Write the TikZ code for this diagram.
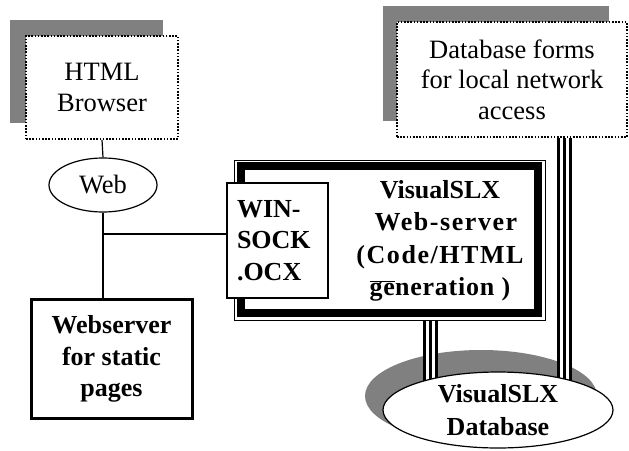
\documentclass[tikz,border=0pt]{standalone}
\usepackage{fontspec}
\setmainfont{Liberation Serif}
\usetikzlibrary{calc,shapes.geometric}
\tikzset{
  txt/.style={font=\fontsize{26.5}{30.5}\selectfont, align=center, inner sep=0pt},
  btxt/.style={txt, font=\fontsize{26}{31.5}\selectfont\bfseries},
  shadowfill/.style={fill={rgb,255:red,128;green,128;blue,128}, draw=none},
  dottedbox/.style={draw, fill=white, line width=1.6pt, dash pattern=on 1.6pt off 1.6pt, rectangle, inner sep=0pt},
  link/.style={draw, line width=1.2pt},
  triple/.style={line width=14.5pt, draw=black,
    postaction={draw=white, line width=8.5pt},
    postaction={draw=black, line width=2.8pt}},
}
\begin{document}
\begin{tikzpicture}[x=1pt,y=-1pt]
\useasboundingbox (0,0) rectangle (629,450);

% shadows
\fill[shadowfill] (10,20) rectangle (163,123);
\fill[shadowfill] (383,6) rectangle (609,121);

% HTML browser
\node[dottedbox, txt, minimum width=152pt, minimum height=103pt] (browser) at (102,87.5) {HTML\\Browser};

% Database forms
\node[dottedbox, txt, minimum width=230pt, minimum height=115pt] (forms) at (512,79.5) {Database forms\\for local network\\access};

% Web ellipse
\node[draw, ellipse, line width=1.2pt, fill=white, minimum width=108pt, minimum height=54pt, txt] (web) at (103,185) {Web};

% Web-server frame
\node[draw, rectangle, line width=1pt, fill=white, minimum width=311pt, minimum height=160pt, inner sep=0pt] (wsrv) at (389.5,240) {};
\draw[line width=8pt] ($(wsrv.north west)+(7.5,6.5)$) rectangle ($(wsrv.south east)+(-7.5,-8)$);
\node[btxt, font=\fontsize{26}{32.5}\selectfont\bfseries] (wsrvtext) at (440,241) {VisualSLX\\\hspace*{12pt}{\addfontfeature{LetterSpace=6}Web-server}\\{\addfontfeature{LetterSpace=6}(Code/HTML}\\{\addfontfeature{LetterSpace=3}$\overline{\mbox{ge}}$neration )}};

% Winsock
\node[draw, rectangle, line width=1.2pt, fill=white, minimum width=101pt, minimum height=115pt, inner xsep=10pt, inner ysep=0pt, btxt, align=left, text width=81pt] (winsock) at (277.5,240.5) {WIN-\\SOCK\\.OCX};

% Static webserver
\node[draw, rectangle, line width=3pt, fill=white, minimum width=161pt, minimum height=119pt, btxt] (static) at (111.5,359) {Webserver\\for static\\pages};

% connectors
\draw[link] (browser.south) -- (web.north);
\draw[link] (web.south) -- (web.south |- static.north);
\coordinate (junc) at (103,234);
\draw[link] (junc) -- (junc -| winsock.west);

% database shadow and triple lines
\fill[shadowfill] (481,396) ellipse [x radius=116pt, y radius=46pt];
\coordinate (dbc) at (498,410);
\draw[triple] (wsrv.south -| 430.5,0) -- (430.5,395);
\draw[triple] (forms.south -| 564.5,0) -- (564.5,395);

% database
\node[draw, ellipse, line width=1.2pt, fill=white, minimum width=230pt, minimum height=76pt, inner sep=0pt, btxt, font=\fontsize{26}{33}\selectfont\bfseries] (db) at (dbc) {VisualSLX\\Database};
\end{tikzpicture}
\end{document}
